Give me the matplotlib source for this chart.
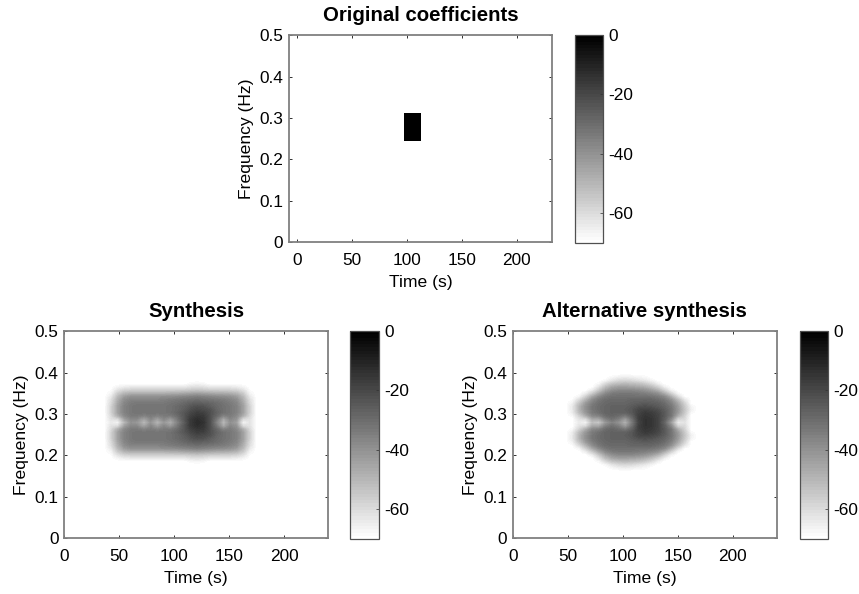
import numpy as np
import matplotlib
matplotlib.use("Agg")
import matplotlib.pyplot as plt

plt.rcParams['font.family'] = ['Liberation Sans', 'DejaVu Sans']
plt.rcParams['axes.unicode_minus'] = False

W, H = 859, 594

# Data (dB)
titles = ["Original coefficients", "Synthesis", "Alternative synthesis"]
colorbar_ticks = [0, -20, -40, -60]
orig_t = [-8, 98, 113, 233]
orig_f = [0, 0.244, 0.312, 0.5]
orig_db = [[-70, -70, -70], [-70, 0, -70], [-70, -70, -70]]

time_grid = [36, 42, 48, 54, 60, 66, 72, 78, 84, 90, 96, 102, 108, 114, 120, 126, 132, 138, 144, 150, 156, 162, 168, 174]
centre_freq = 0.2783
bin_freq = 0.0078

# rows run outward from the centre line, the upper and lower halves look alike
synth_half = [
    [-70, -64, -66, -50, -40, -42, -50, -41, -49, -42, -47, -36, -26, -16, -12, -14, -22, -36, -50, -40, -44, -66, -62, -70],
    [-70, -62, -60, -44, -37, -38, -45, -37, -44, -37, -42, -33, -24, -16, -13, -15, -22, -33, -46, -37, -41, -60, -62, -70],
    [-70, -60, -48, -38, -34, -34, -36, -34, -36, -34, -34, -30, -24, -18, -15, -16, -22, -29, -36, -34, -38, -48, -60, -70],
    [-70, -58, -44, -36, -33, -32, -32, -32, -32, -32, -31, -28, -24, -20, -17, -18, -22, -27, -31, -33, -36, -44, -58, -70],
    [-70, -58, -44, -36, -33, -32, -32, -32, -32, -32, -31, -29, -26, -22, -20, -21, -23, -28, -31, -33, -36, -44, -58, -70],
    [-70, -58, -44, -36, -33, -32, -32, -32, -32, -32, -31, -29, -27, -24, -22, -23, -26, -29, -31, -33, -36, -44, -58, -70],
    [-70, -60, -46, -37, -34, -33, -33, -33, -33, -33, -32, -31, -29, -27, -26, -27, -28, -30, -32, -34, -37, -46, -60, -70],
    [-70, -61, -48, -39, -36, -36, -36, -36, -36, -35, -34, -33, -32, -31, -30, -31, -32, -33, -34, -36, -39, -48, -61, -70],
    [-70, -64, -51, -43, -40, -40, -40, -40, -40, -39, -39, -38, -37, -36, -35, -36, -37, -38, -39, -40, -43, -51, -64, -70],
    [-70, -67, -56, -50, -48, -48, -48, -48, -48, -48, -47, -47, -46, -45, -44, -45, -46, -47, -47, -48, -50, -56, -67, -70],
    [-70, -69, -62, -58, -57, -57, -57, -57, -57, -57, -57, -56, -56, -55, -54, -55, -56, -56, -57, -57, -58, -62, -69, -70],
    [-70, -70, -67, -65, -64, -64, -64, -64, -64, -64, -64, -64, -64, -62, -61, -62, -64, -64, -64, -64, -65, -67, -70, -70],
    [-70, -70, -70, -70, -70, -70, -70, -70, -70, -70, -70, -70, -70, -68, -67, -68, -70, -70, -70, -70, -70, -70, -70, -70],
    [-70, -70, -70, -70, -70, -70, -70, -70, -70, -70, -70, -70, -70, -70, -70, -70, -70, -70, -70, -70, -70, -70, -70, -70],
    [-70, -70, -70, -70, -70, -70, -70, -70, -70, -70, -70, -70, -70, -70, -70, -70, -70, -70, -70, -70, -70, -70, -70, -70],
    [-70, -70, -70, -70, -70, -70, -70, -70, -70, -70, -70, -70, -70, -70, -70, -70, -70, -70, -70, -70, -70, -70, -70, -70],
]
alt_half = [
    [-70, -70, -70, -70, -64, -66, -52, -54, -42, -36, -40, -48, -34, -19, -14, -15, -19, -28, -44, -64, -62, -70, -70, -70],
    [-70, -70, -70, -70, -62, -60, -46, -46, -36, -31, -35, -43, -31, -18, -14, -15, -19, -26, -38, -58, -60, -70, -70, -70],
    [-70, -70, -70, -68, -58, -48, -38, -36, -30, -28, -30, -33, -27, -18, -15, -16, -19, -25, -33, -48, -58, -70, -70, -70],
    [-70, -70, -70, -65, -52, -42, -34, -31, -28, -27, -27, -27, -24, -19, -16, -17, -20, -25, -32, -43, -55, -68, -70, -70],
    [-70, -70, -70, -64, -50, -40, -33, -30, -28, -27, -27, -26, -24, -20, -19, -20, -22, -26, -32, -42, -54, -66, -70, -70],
    [-70, -70, -70, -64, -50, -40, -33, -30, -28, -27, -27, -27, -25, -23, -22, -23, -25, -28, -33, -43, -55, -67, -70, -70],
    [-70, -70, -70, -66, -54, -43, -35, -31, -29, -28, -28, -28, -27, -26, -25, -26, -27, -30, -36, -46, -58, -70, -70, -70],
    [-70, -70, -70, -69, -60, -49, -39, -33, -30, -29, -29, -29, -28, -28, -28, -28, -30, -33, -40, -51, -63, -70, -70, -70],
    [-70, -70, -70, -70, -67, -57, -46, -38, -33, -31, -31, -31, -31, -31, -31, -32, -34, -38, -48, -60, -69, -70, -70, -70],
    [-70, -70, -70, -70, -70, -65, -56, -46, -38, -34, -33, -33, -33, -34, -35, -37, -40, -48, -58, -68, -70, -70, -70, -70],
    [-70, -70, -70, -70, -70, -70, -65, -55, -45, -40, -38, -38, -38, -39, -41, -44, -49, -58, -67, -70, -70, -70, -70, -70],
    [-70, -70, -70, -70, -70, -70, -70, -62, -52, -46, -44, -44, -45, -46, -48, -52, -58, -66, -70, -70, -70, -70, -70, -70],
    [-70, -70, -70, -70, -70, -70, -70, -68, -60, -54, -52, -51, -52, -53, -56, -60, -66, -70, -70, -70, -70, -70, -70, -70],
    [-70, -70, -70, -70, -70, -70, -70, -70, -68, -63, -60, -59, -60, -62, -64, -67, -70, -70, -70, -70, -70, -70, -70, -70],
    [-70, -70, -70, -70, -70, -70, -70, -70, -70, -68, -66, -65, -66, -67, -68, -70, -70, -70, -70, -70, -70, -70, -70, -70],
    [-70, -70, -70, -70, -70, -70, -70, -70, -70, -70, -70, -70, -70, -70, -70, -70, -70, -70, -70, -70, -70, -70, -70, -70],
]

cmap = plt.get_cmap('gray_r', 64)
SPINE = '#808080'
TICK_FS = 12.4
LABEL_FS = 12.6


def rect(x0, y0, x1, y1):
    return [x0 / W, 1 - y1 / H, (x1 - x0) / W, (y1 - y0) / H]


def mirror(half):
    half = np.array(half, float)
    return np.vstack([half[:0:-1], half])


def style(ax, title, xlim, xticks, ylim):
    ax.set_xlim(*xlim)
    ax.set_ylim(*ylim)
    ax.set_xticks(xticks)
    ax.set_yticks([0, 0.1, 0.2, 0.3, 0.4, 0.5])
    ax.set_yticklabels(['0', '0.1', '0.2', '0.3', '0.4', '0.5'])
    ax.tick_params(direction='in', length=2.5, width=0.7, labelsize=TICK_FS, color='#303030',
                   top=True, right=True)
    ax.tick_params(axis='x', pad=8)
    ax.tick_params(axis='y', pad=4)
    for s in ax.spines.values():
        s.set_color(SPINE)
        s.set_linewidth(1.3)
    ax.set_xlabel('Time (s)', fontsize=LABEL_FS, labelpad=5)
    ax.set_ylabel('Frequency (Hz)', fontsize=LABEL_FS, labelpad=4)
    ax.set_title(title, fontsize=14.7, fontweight='bold', pad=10)


def add_cbar(fig, im, box):
    cax = fig.add_axes(rect(*box))
    cb = fig.colorbar(im, cax=cax, ticks=colorbar_ticks)
    cb.ax.set_yticklabels([str(t) for t in colorbar_ticks])
    cb.ax.tick_params(direction='in', length=2, width=0.5, labelsize=TICK_FS, pad=4, color='#303030')
    cb.outline.set_edgecolor('#505050')
    cb.outline.set_linewidth(0.9)


fig = plt.figure(figsize=(W / 100, H / 100), dpi=100)

# Top panel
ax = fig.add_axes(rect(288.7, 35.2, 552.3, 242.3))
im = ax.pcolormesh(orig_t, orig_f, orig_db, cmap=cmap, vmin=-70, vmax=0, shading='flat')
style(ax, titles[0], (-7.3, 232.4), [0, 50, 100, 150, 200], (-0.001, 0.5))
add_cbar(fig, im, (575, 35, 603, 243))

# Bottom panels
dt = time_grid[1] - time_grid[0]
half_rows = len(synth_half) - 1
extent = [time_grid[0] - dt / 2, time_grid[-1] + dt / 2,
          centre_freq - (half_rows + 0.5) * bin_freq, centre_freq + (half_rows + 0.5) * bin_freq]

for box, cbox, data, title in [((64.3, 331.2, 328.3, 538.3), (350, 331, 379, 539), synth_half, titles[1]),
                               ((512.7, 331.2, 776.7, 538.3), (800, 331, 828, 539), alt_half, titles[2])]:
    ax = fig.add_axes(rect(*box))
    im = ax.imshow(mirror(data), origin='lower', extent=extent, aspect='auto', cmap=cmap,
                   vmin=-70, vmax=0, interpolation='bilinear')
    style(ax, title, (0, 240), [0, 50, 100, 150, 200], (0, 0.5))
    add_cbar(fig, im, cbox)

fig.savefig('out.png', dpi=100)
